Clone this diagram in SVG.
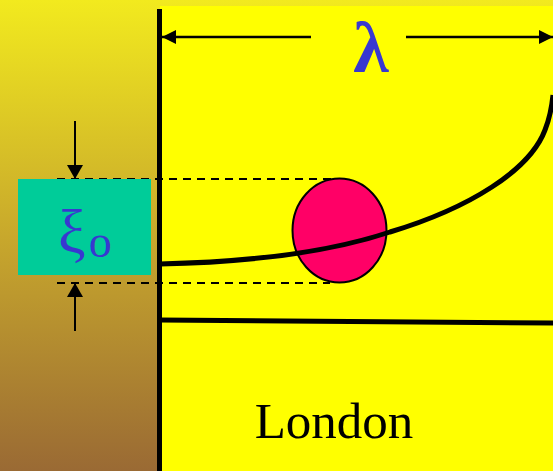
<svg xmlns="http://www.w3.org/2000/svg" width="553" height="471" viewBox="0 0 553 471">
<defs>
<linearGradient id="bg" x1="0" y1="0" x2="0" y2="1">
<stop offset="0" stop-color="#F2EA1E"/>
<stop offset="0.5" stop-color="#C8A82C"/>
<stop offset="1" stop-color="#9A6A34"/>
</linearGradient>
<marker id="ah" viewBox="0 0 14 16" refX="14" refY="8" markerWidth="14" markerHeight="16" markerUnits="userSpaceOnUse" orient="auto">
<path d="M0,0 L14,8 L0,16 z" fill="#000"/>
</marker>
<marker id="ahL" viewBox="0 0 14 14" refX="14" refY="7" markerWidth="14" markerHeight="14" markerUnits="userSpaceOnUse" orient="auto">
<path d="M0,0 L14,7 L0,14 z" fill="#000"/>
</marker>
</defs>
<style>
.dash{stroke:#000;stroke-width:2;stroke-dasharray:8 6;fill:none}
.thin{stroke:#000;stroke-width:2;fill:none}
.thick{stroke:#000;stroke-width:5;fill:none}
.greek{font-family:"Liberation Serif","DejaVu Serif",serif;fill:#3838D0}
</style>
<rect x="0" y="0" width="553" height="471" fill="url(#bg)"/>
<rect x="160" y="6" width="393" height="465" fill="#FFFF00"/>
<g id="connectors">
<line class="dash" x1="57" y1="179" x2="340" y2="179"/>
<line class="dash" x1="57" y1="283" x2="330" y2="283"/>
<line class="thin" x1="75" y1="121" x2="75" y2="179" marker-end="url(#ah)"/>
<line class="thin" x1="75" y1="331" x2="75" y2="283" marker-end="url(#ah)"/>
<line class="thin" x1="311" y1="37" x2="162" y2="37" marker-end="url(#ahL)" style="stroke-width:2.5"/>
<line class="thin" x1="406" y1="37" x2="553" y2="37" marker-end="url(#ahL)" style="stroke-width:2.5"/>
</g>
<g id="ball">
<ellipse cx="339.5" cy="230.5" rx="47" ry="52" fill="#FF0066" stroke="#000" stroke-width="2"/>
</g>
<g id="wave">
<path class="thick" d="M160,264 C250,262 330,252 390,232 C470,208 530,170 545,130 C551,115 552,105 553,95"/>
</g>
<g id="seabed">
<line class="thick" x1="160" y1="320" x2="553" y2="323"/>
</g>
<g id="wall">
<line x1="159.5" y1="9" x2="159.5" y2="471" stroke="#000" stroke-width="5"/>
</g>
<g id="xi-box">
<rect x="18" y="179" width="133" height="96" fill="#00CC99"/>
<text class="greek" x="58" y="252" font-size="62">ξ<tspan font-size="46" dx="3" dy="5">o</tspan></text>
</g>
<g id="lambda">
<text class="greek" x="371" y="72" font-size="72" font-weight="bold" text-anchor="middle">λ</text>
</g>
<g id="label">
<text x="334" y="438" font-family="Liberation Serif, serif" font-size="51" text-anchor="middle" fill="#000">London</text>
</g>
</svg>
